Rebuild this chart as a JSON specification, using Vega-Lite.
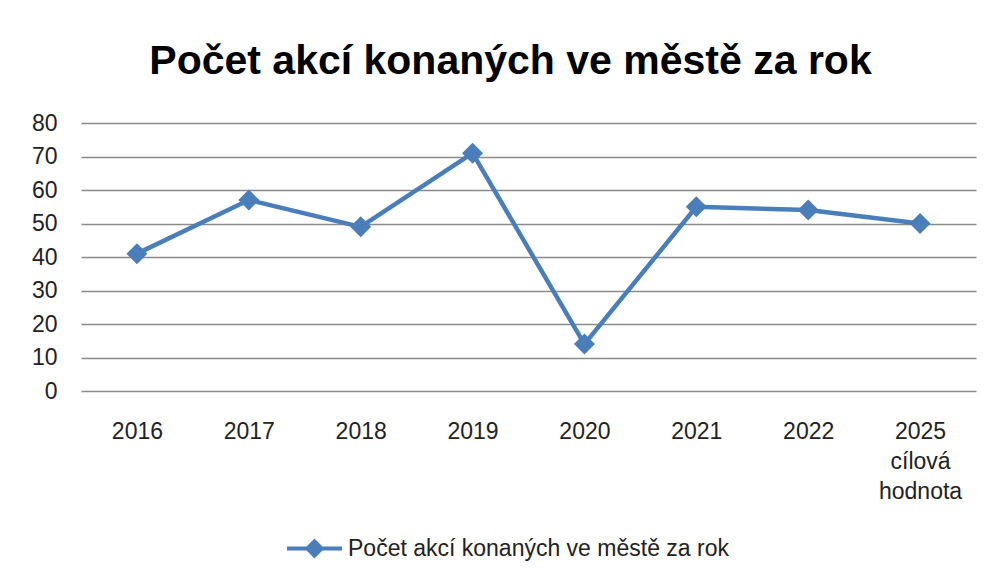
{
  "$schema": "https://vega.github.io/schema/vega-lite/v6.json",
  "autosize": {"type": "none"},
  "width": 895,
  "height": 268,
  "padding": {"left": 81, "top": 123, "right": 12, "bottom": 191},
  "background": "white",
  "title": {
    "text": "Počet akcí konaných ve městě za rok",
    "font": "Liberation Sans",
    "fontSize": 41,
    "fontWeight": "bold",
    "color": "#000000",
    "anchor": "middle",
    "dx": -18,
    "offset": 29
  },
  "config": {
    "view": {"stroke": null},
    "font": "Liberation Sans"
  },
  "data": {
    "values": [
      {"year": "2016", "value": 41, "series": "Počet akcí konaných ve městě za rok"},
      {"year": "2017", "value": 57, "series": "Počet akcí konaných ve městě za rok"},
      {"year": "2018", "value": 49, "series": "Počet akcí konaných ve městě za rok"},
      {"year": "2019", "value": 71, "series": "Počet akcí konaných ve městě za rok"},
      {"year": "2020", "value": 14, "series": "Počet akcí konaných ve městě za rok"},
      {"year": "2021", "value": 55, "series": "Počet akcí konaných ve městě za rok"},
      {"year": "2022", "value": 54, "series": "Počet akcí konaných ve městě za rok"},
      {"year": "2025 cílová hodnota", "value": 50, "series": "Počet akcí konaných ve městě za rok"}
    ]
  },
  "encoding": {
    "x": {
      "field": "year",
      "type": "ordinal",
      "sort": null,
      "scale": {"paddingInner": 0, "paddingOuter": 0.5},
      "axis": {
        "title": null,
        "labelAngle": 0,
        "labelFont": "Liberation Sans",
        "labelFontSize": 23,
        "labelColor": "#222222",
        "labelPadding": 29,
        "labelLineHeight": 30,
        "labelBaseline": "top",
        "labelExpr": "datum.value == '2025 cílová hodnota' ? ['2025', 'cílová', 'hodnota'] : datum.value",
        "ticks": false,
        "domain": false,
        "grid": false
      }
    },
    "y": {
      "field": "value",
      "type": "quantitative",
      "scale": {"domain": [0, 80], "nice": false},
      "axis": {
        "title": null,
        "values": [0, 10, 20, 30, 40, 50, 60, 70, 80],
        "labelFont": "Liberation Sans",
        "labelFontSize": 23,
        "labelColor": "#222222",
        "labelPadding": 24,
        "ticks": false,
        "domain": false,
        "grid": true,
        "gridColor": "#8a8a8a",
        "gridWidth": 1.3
      }
    },
    "color": {
      "field": "series",
      "type": "nominal",
      "scale": {"range": ["#4a7ebb"]},
      "legend": {
        "title": null,
        "orient": "none",
        "legendX": 204,
        "legendY": 396,
        "labelFont": "Liberation Sans",
        "labelFontSize": 23,
        "labelColor": "#222222",
        "labelLimit": 0,
        "symbolType": "M-1,0L-0.3,0M0.3,0L1,0M0,-0.26L0.26,0L0,0.26L-0.26,0Z",
        "symbolSize": 3025,
        "symbolStrokeWidth": 4,
        "symbolFillColor": "#4a7ebb",
        "symbolStrokeColor": "#4a7ebb",
        "labelOffset": 4
      }
    }
  },
  "layer": [
    {
      "mark": {"type": "line", "strokeWidth": 4.5}
    },
    {
      "mark": {"type": "point", "shape": "diamond", "filled": true, "size": 440, "opacity": 1}
    }
  ]
}
